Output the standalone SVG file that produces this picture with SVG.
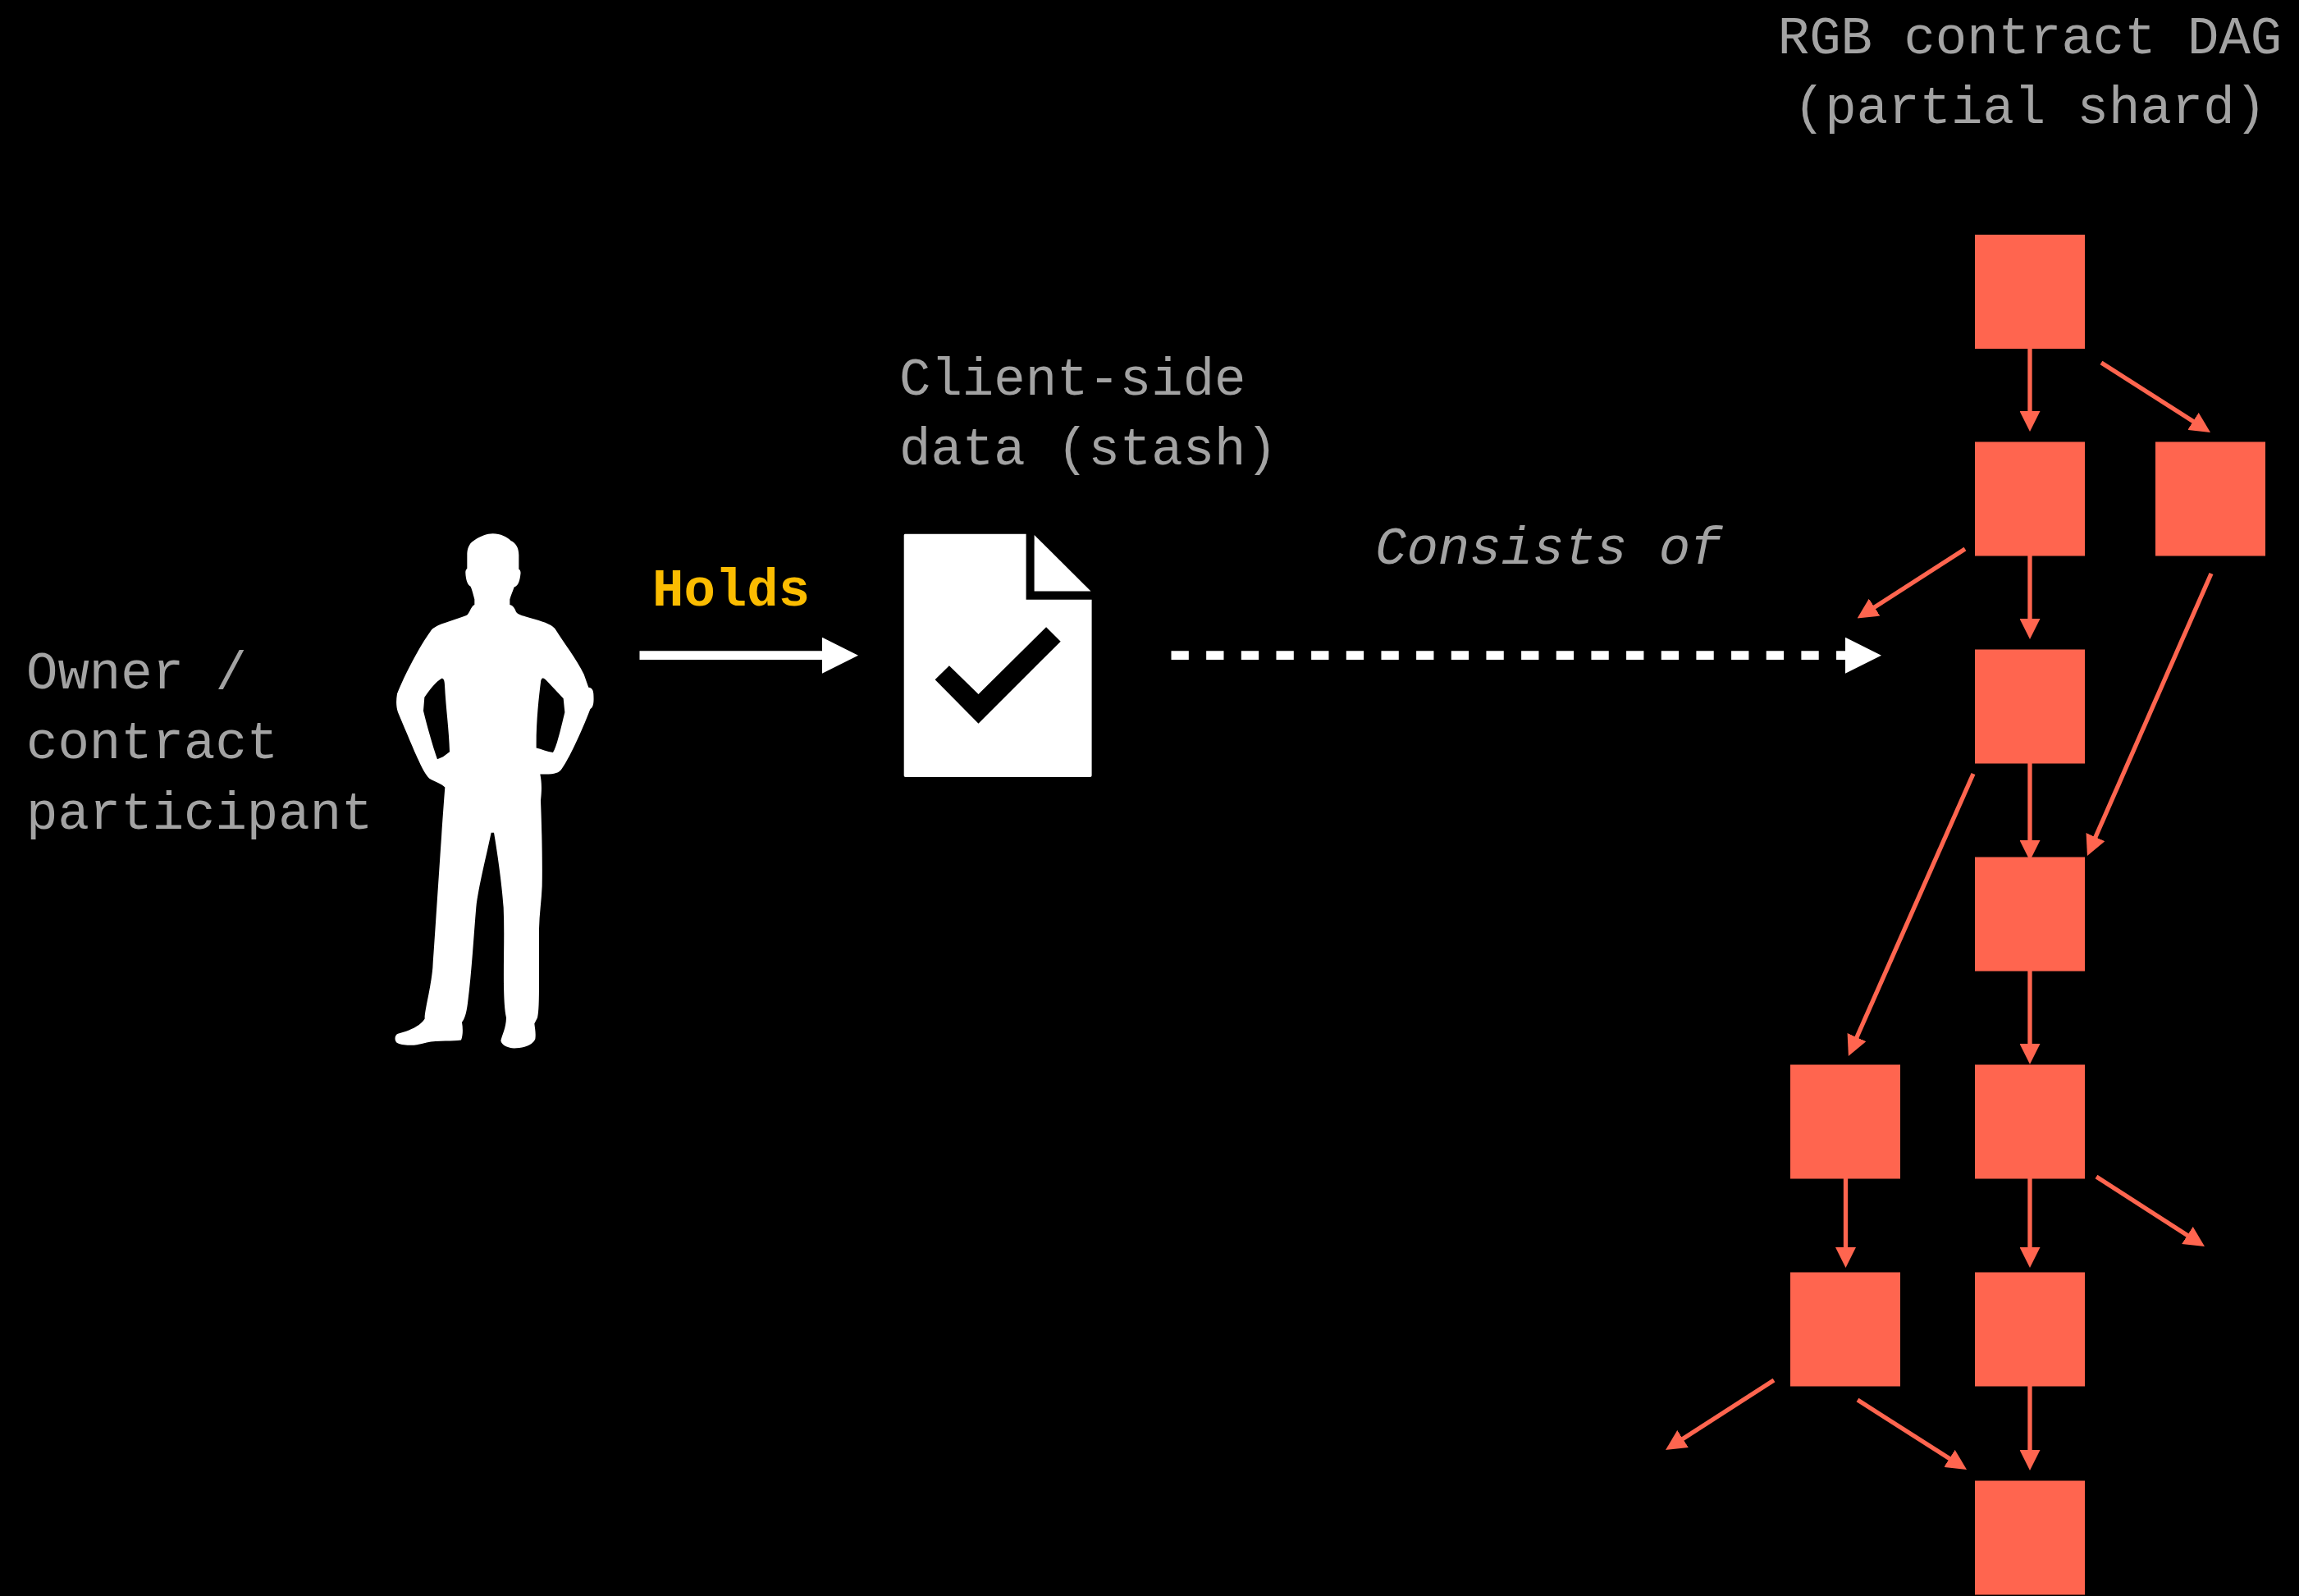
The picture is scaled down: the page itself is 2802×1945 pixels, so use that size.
<svg xmlns="http://www.w3.org/2000/svg" width="2802" height="1945" viewBox="0 0 2802 1945">
<style>
.t{font-family:"Liberation Mono","DejaVu Sans Mono",monospace;font-size:64px;fill:#a3a3a3}
.h{font-family:"Liberation Mono","DejaVu Sans Mono",monospace;font-size:64px;font-weight:700;fill:#fbbc00}
.n{fill:#ff654f}
.r{stroke:#ff654f;stroke-width:5.33;fill:none;marker-end:url(#rh)}
.w{stroke:#fff;stroke-width:10.67;fill:none;marker-end:url(#wh)}
</style>
<defs>
<marker id="rh" markerUnits="userSpaceOnUse" viewBox="0 0 25 25" markerWidth="25" markerHeight="25" refX="1" refY="12.5" orient="auto"><path d="M0 0L25 12.5L0 25Z" fill="#ff654f"/></marker>
<marker id="wh" markerUnits="userSpaceOnUse" viewBox="0 0 44 44" markerWidth="44" markerHeight="44" refX="1" refY="22" orient="auto"><path d="M0 0L44 22L0 44Z" fill="#fff"/></marker>
</defs>
<rect id="background" width="2802" height="1945" fill="#000"/>
<g id="owner">
<path fill="#fff" fill-rule="evenodd" transform="translate(440 620) scale(0.33333 0.43367)" d="M482 70C510 70 535 80 548 90C565 95 577 110 577 130L577 170C582 172 585 176 583 185C581 200 575 218 560 220C555 232 548 243 544 255L544 270C556 272 562 280 567 290C575 298 590 300 610 305C650 314 695 322 710 338C740 375 790 425 815 465L832 502C845 503 849 510 850 520C852 545 850 558 838 563C815 610 770 690 735 730C722 745 705 747 655 746C660 765 662 785 657 820C660 880 664 980 662 1060C660 1100 652 1140 651 1180L651 1330C651 1380 650 1415 645 1430L634 1447C636 1460 640 1475 637 1490C625 1510 590 1516 560 1516C535 1515 515 1508 511 1495C515 1480 530 1460 531 1430C525 1410 523 1380 522 1340C521 1260 525 1190 521 1120C515 1050 495 950 486 910L476 910C460 970 430 1060 421 1120C412 1200 405 1300 390 1390C385 1420 378 1435 369 1443C373 1460 373 1480 366 1493C340 1497 280 1493 240 1500C200 1510 150 1510 130 1500C120 1490 125 1478 135 1475C175 1468 215 1455 233 1433C232 1410 255 1350 262 1290C275 1150 295 900 307 783C295 772 270 768 250 758C225 740 200 690 135 572C128 555 128 540 132 520C160 465 215 385 258 340C275 325 340 314 385 300C398 295 400 275 415 270L415 255C410 240 405 225 400 218C390 215 383 200 382 180C382 172 386 170 388 168L388 125C390 105 400 95 415 88C435 78 460 70 482 70Z M295 477C302 477 305 482 306 495C310 560 322 620 324 683L300 697L279 704C255 650 235 590 228 568L232 530C250 510 275 485 295 477Z M662 477C668 475 672 478 680 484L740 533L745 572C730 620 715 670 702 685C680 683 660 675 641 672C640 600 650 530 658 482Z"/>
<text class="t"><tspan x="32" y="839">Owner /</tspan><tspan x="32" y="924">contract</tspan><tspan x="32" y="1009.5">participant</tspan></text>
</g>
<g id="stash">
<path fill="#fff" fill-rule="evenodd" d="M1103 650.7H1250.6V730.7H1330.6V945C1330.6 946.2 1329.8 947 1328.6 947H1103.7C1102.5 947 1101.7 946.2 1101.7 945V652.7C1101.7 651.5 1102.2 650.7 1103 650.7Z M1139.6 828.3L1192.5 881.7L1292.7 781.7L1275.1 764.3L1192.5 846L1156.9 811.3Z"/>
<path fill="#fff" d="M1260.6 652L1329.5 720.5H1260.6Z"/>
<text class="t"><tspan x="1096" y="480.7">Client-side</tspan><tspan x="1096" y="565.7">data (stash)</tspan></text>
</g>
<g id="dag-title"><text class="t" text-anchor="middle"><tspan x="2474" y="64.8">RGB contract DAG</tspan><tspan x="2474" y="150.3">(partial shard)</tspan></text></g>
<g id="nodes">
<rect id="n1" class="n" x="2407" y="286" width="134" height="139"/>
<rect id="n2" class="n" x="2407" y="538.5" width="134" height="139"/>
<rect id="n3" class="n" x="2627" y="538.5" width="134" height="139"/>
<rect id="n4" class="n" x="2407" y="791.5" width="134" height="139"/>
<rect id="n5" class="n" x="2407" y="1044.5" width="134" height="139"/>
<rect id="n6" class="n" x="2182" y="1297.5" width="134" height="139"/>
<rect id="n7" class="n" x="2407" y="1297.5" width="134" height="139"/>
<rect id="n8" class="n" x="2182" y="1550.5" width="134" height="139"/>
<rect id="n9" class="n" x="2407" y="1550.5" width="134" height="139"/>
<rect id="n10" class="n" x="2407" y="1804.5" width="134" height="139"/>
</g>
<g id="connectors">
<line class="w" x1="779.5" y1="798.7" x2="1003" y2="798.7"/>
<line class="w" x1="1427.5" y1="798.7" x2="2250" y2="798.7" stroke-dasharray="21.33 21.33"/>
<line class="r" x1="2474" y1="425" x2="2474" y2="502"/>
<line class="r" x1="2474" y1="677" x2="2474" y2="755"/>
<line class="r" x1="2474" y1="930" x2="2474" y2="1025"/>
<line class="r" x1="2474" y1="1183" x2="2474" y2="1273"/>
<line class="r" x1="2474" y1="1436" x2="2474" y2="1521"/>
<line class="r" x1="2474" y1="1689" x2="2474" y2="1768"/>
<line class="r" x1="2249.5" y1="1436" x2="2249.5" y2="1521"/>
<line class="r" x1="2561" y1="442" x2="2673.8" y2="514"/>
<line class="r" x1="2395" y1="669" x2="2283.8" y2="740.6"/>
<line class="r" x1="2695" y1="699" x2="2553.6" y2="1021"/>
<line class="r" x1="2405" y1="943" x2="2262.6" y2="1265"/>
<line class="r" x1="2555" y1="1434" x2="2666.8" y2="1506"/>
<line class="r" x1="2162" y1="1682" x2="2050.2" y2="1754"/>
<line class="r" x1="2264" y1="1706" x2="2376.8" y2="1778"/>
</g>
<g id="labels">
<text class="h" x="795" y="738">Holds</text>
<text class="t" x="1676" y="687" font-style="italic">Consists of</text>
</g>
</svg>
